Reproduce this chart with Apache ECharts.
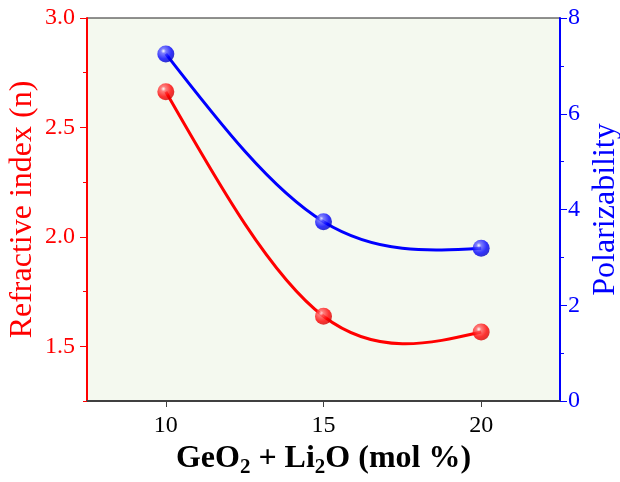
<!DOCTYPE html>
<html><head><meta charset="utf-8">
<script src="https://cdn.jsdelivr.net/npm/echarts@6/dist/echarts.min.js"></script>
<style>html,body{margin:0;padding:0;background:#fff}#c{width:620px;height:482px}</style>
</head><body><div id="c"></div>
<script>
const xValues = [10, 15, 20];
const refractiveIndex = [2.663, 1.637, 1.565];
const polarizability = [7.25, 3.745, 3.19];
const xTicks = [10, 15, 20];
const leftTicks = [1.5, 2.0, 2.5, 3.0];
const FONT = '"Liberation Serif", "Times New Roman", serif';

function ball(c1, c2, c3) {
  return { type: 'radial', x: 0.36, y: 0.33, r: 0.72,
    colorStops: [{offset: 0, color: '#ffffff'}, {offset: 0.2, color: c1}, {offset: 0.65, color: c2}, {offset: 1, color: c3}] };
}

// natural cubic spline through pixel points, returned as bezier segments
function splineSegments(pts) {
  const n = pts.length;
  if (n < 3) return pts.length === 2 ? [[pts[0], pts[0], pts[1], pts[1]]] : [];
  const h = [], d = [];
  for (let i = 0; i < n - 1; i++) { h.push(pts[i + 1][0] - pts[i][0]); d.push((pts[i + 1][1] - pts[i][1]) / h[i]); }
  const M = new Array(n).fill(0);
  const a = [], b = [], c = [], r = [];
  for (let i = 1; i < n - 1; i++) { a.push(h[i - 1]); b.push(2 * (h[i - 1] + h[i])); c.push(h[i]); r.push(6 * (d[i] - d[i - 1])); }
  const m = b.length;
  for (let i = 1; i < m; i++) { const w = a[i] / b[i - 1]; b[i] -= w * c[i - 1]; r[i] -= w * r[i - 1]; }
  const sol = new Array(m);
  sol[m - 1] = r[m - 1] / b[m - 1];
  for (let i = m - 2; i >= 0; i--) sol[i] = (r[i] - c[i] * sol[i + 1]) / b[i];
  for (let i = 0; i < m; i++) M[i + 1] = sol[i];
  const segs = [];
  for (let i = 0; i < n - 1; i++) {
    const s0 = d[i] - h[i] * (2 * M[i] + M[i + 1]) / 6;
    const s1 = d[i] + h[i] * (M[i] + 2 * M[i + 1]) / 6;
    const p0 = pts[i], p1 = pts[i + 1];
    segs.push([p0, [p0[0] + h[i] / 3, p0[1] + s0 * h[i] / 3], [p1[0] - h[i] / 3, p1[1] - s1 * h[i] / 3], p1]);
  }
  return segs;
}

function splineSeries(values, yIdx, color) {
  return {
    type: 'custom', yAxisIndex: yIdx, z: 2, silent: true,
    data: xValues.map((x, i) => [x, values[i]]),
    renderItem: function (params, api) {
      if (params.dataIndex !== 0) return null;
      const pts = xValues.map((x, i) => api.coord([x, values[i]]));
      const segs = splineSegments(pts);
      return {
        type: 'group',
        children: segs.map(s => ({
          type: 'bezierCurve',
          shape: {x1: s[0][0], y1: s[0][1], cpx1: s[1][0], cpy1: s[1][1], cpx2: s[2][0], cpy2: s[2][1], x2: s[3][0], y2: s[3][1]},
          style: {stroke: color, lineWidth: 3, fill: null}
        }))
      };
    }
  };
}

const chart = echarts.init(document.getElementById('c'), null, {renderer: 'canvas'});
chart.setOption({
  animation: false,
  grid: {left: 87, right: 60, top: 18, bottom: 81, containLabel: false, outerBoundsMode: 'none',
    show: true, backgroundColor: '#F4F9EF', borderColor: '#222', borderWidth: 1},
  xAxis: {
    type: 'value', min: 7.5, max: 22.5,
    name: '{n|GeO}{s|2}{n| + Li}{s|2}{n|O (mol %)}',
    nameLocation: 'middle', nameGap: 38, nameMoveOverlap: false,
    nameTextStyle: {rich: {
      n: {fontFamily: FONT, fontSize: 32, fontWeight: 'bold', color: '#000'},
      s: {fontFamily: FONT, fontSize: 21, fontWeight: 'bold', color: '#000', verticalAlign: 'bottom', padding: [18, 0, 0, 0]}
    }},
    axisLine: {show: true, lineStyle: {color: '#404040', width: 2}},
    axisTick: {show: true, customValues: xTicks, length: 6, lineStyle: {color: '#404040', width: 1}},
    axisLabel: {customValues: xTicks, margin: 13, fontFamily: FONT, fontSize: 24, color: '#000'},
    splitLine: {show: false}
  },
  yAxis: [{
    type: 'value', position: 'left', min: 1.25, max: 3.0,
    name: 'Refractive index (n)', nameLocation: 'middle', nameGap: 48, nameMoveOverlap: false,
    nameTextStyle: {fontFamily: FONT, fontSize: 32, color: '#FF0000'},
    axisLine: {show: true, lineStyle: {color: '#FF0000', width: 2}},
    axisTick: {show: true, customValues: leftTicks, length: 7, lineStyle: {color: '#FF0000', width: 1}},
    axisLabel: {customValues: leftTicks, margin: 12, fontFamily: FONT, fontSize: 24, color: '#FF0000', formatter: v => v.toFixed(1)},
    splitLine: {show: false}
  }, {
    type: 'value', position: 'right', min: 0, max: 8, interval: 2,
    name: 'Polarizability', nameLocation: 'middle', nameGap: 30, nameMoveOverlap: false,
    nameTextStyle: {fontFamily: FONT, fontSize: 32, color: '#0000FF'},
    axisLine: {show: true, lineStyle: {color: '#0000FF', width: 2}},
    axisTick: {show: true, length: 7, lineStyle: {color: '#0000FF', width: 1}},
    minorTick: {show: true, splitNumber: 2, length: 4, lineStyle: {color: '#0000FF', width: 1}},
    axisLabel: {margin: 8, fontFamily: FONT, fontSize: 24, color: '#0000FF'},
    splitLine: {show: false}, minorSplitLine: {show: false}
  }, {
    type: 'value', position: 'left', min: 1.25, max: 3.0, interval: 0.25,
    axisLine: {show: false},
    axisTick: {show: true, length: 4, lineStyle: {color: '#FF0000', width: 1}},
    axisLabel: {show: false}, splitLine: {show: false}
  }],
  series: [
    splineSeries(refractiveIndex, 0, '#FF0000'),
    splineSeries(polarizability, 1, '#0000FF'),
    {
      type: 'scatter', yAxisIndex: 0, z: 3,
      data: xValues.map((x, i) => [x, refractiveIndex[i]]),
      symbol: 'circle', symbolSize: 17,
      itemStyle: {color: ball('#ff6060', '#ff0000', '#d00000')}
    }, {
      type: 'scatter', yAxisIndex: 1, z: 3,
      data: xValues.map((x, i) => [x, polarizability[i]]),
      symbol: 'circle', symbolSize: 17,
      itemStyle: {color: ball('#6060ff', '#0000ff', '#0000c0')}
    }
  ]
});
</script></body></html>
